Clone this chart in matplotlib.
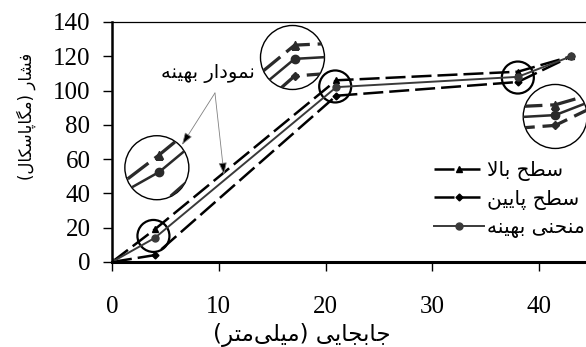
import matplotlib
matplotlib.use("Agg")
import matplotlib.pyplot as plt
from matplotlib.patches import Circle
from matplotlib.transforms import ScaledTranslation

# داده ها
jabejayi = [0, 4, 21, 38, 43]
sath_bala = [0, 19, 106, 111, 120]
sath_paein = [0, 4, 97, 105, 120]
behine = [0, 14, 102, 108, 120]

xticks = [0, 10, 20, 30, 40]
yticks = [0, 20, 40, 60, 80, 100, 120, 140]

# شکل دادن حروف فارسی (matplotlib خودش این کار را نمی کند)
FORMS = {
    '\u0627': ('\uFE8D', '\uFE8E', None, None),
    '\u0628': ('\uFE8F', '\uFE90', '\uFE91', '\uFE92'),
    '\u067E': ('\uFB56', '\uFB57', '\uFB58', '\uFB59'),
    '\u062A': ('\uFE95', '\uFE96', '\uFE97', '\uFE98'),
    '\u062C': ('\uFE9D', '\uFE9E', '\uFE9F', '\uFEA0'),
    '\u062D': ('\uFEA1', '\uFEA2', '\uFEA3', '\uFEA4'),
    '\u062F': ('\uFEA9', '\uFEAA', None, None),
    '\u0631': ('\uFEAD', '\uFEAE', None, None),
    '\u0633': ('\uFEB1', '\uFEB2', '\uFEB3', '\uFEB4'),
    '\u0634': ('\uFEB5', '\uFEB6', '\uFEB7', '\uFEB8'),
    '\u0637': ('\uFEC1', '\uFEC2', '\uFEC3', '\uFEC4'),
    '\u0641': ('\uFED1', '\uFED2', '\uFED3', '\uFED4'),
    '\u06A9': ('\uFB8E', '\uFB8F', '\uFB90', '\uFB91'),
    '\u0643': ('\uFB8E', '\uFB8F', '\uFB90', '\uFB91'),
    '\u06AF': ('\uFB92', '\uFB93', '\uFB94', '\uFB95'),
    '\u0644': ('\uFEDD', '\uFEDE', '\uFEDF', '\uFEE0'),
    '\u0645': ('\uFEE1', '\uFEE2', '\uFEE3', '\uFEE4'),
    '\u0646': ('\uFEE5', '\uFEE6', '\uFEE7', '\uFEE8'),
    '\u0647': ('\uFEE9', '\uFEEA', '\uFEEB', '\uFEEC'),
    '\u0648': ('\uFEED', '\uFEEE', None, None),
    '\u06CC': ('\uFBFC', '\uFBFD', '\uFBFE', '\uFBFF'),
    '\u064A': ('\uFBFC', '\uFBFD', '\uFBFE', '\uFBFF'),
}
MIRROR = {'(': ')', ')': '('}


def farsi(s):
    out = []
    i = 0
    while i < len(s):
        c = s[i]
        prev = s[i-1] if i > 0 else None
        nxt = s[i+1] if i+1 < len(s) else None
        join_prev = prev in FORMS and FORMS[prev][2] is not None
        if c == '\u200c':
            i += 1
            continue
        if c not in FORMS:
            out.append(MIRROR.get(c, c))
            i += 1
            continue
        if c == '\u0644' and nxt == '\u0627':
            out.append('\uFEFC' if join_prev else '\uFEFB')
            i += 2
            continue
        join_next = FORMS[c][2] is not None and nxt in FORMS
        if join_prev and join_next:
            f = 3
        elif join_prev:
            f = 1
        elif join_next:
            f = 2
        else:
            f = 0
        out.append(FORMS[c][f])
        i += 1
    return ''.join(reversed(out))


plt.rcParams['font.family'] = ['Liberation Serif', 'DejaVu Sans']
fa = ['DejaVu Sans']

fig = plt.figure(figsize=(5.86, 3.47), dpi=100)
ax = fig.add_axes([112/586, 1-262/347, 1-112/586, (262-22)/347])

# سری ها
series = [
    (sath_bala, dict(color='black', lw=1.8, dashes=(8, 2.4), marker='^', ms=5), 'سطح بالا'),
    (sath_paein, dict(color='black', lw=1.8, dashes=(8, 2.4), marker='D', ms=3.5), 'سطح پایین'),
    (behine, dict(color='#3a3a3a', lw=1.4, ls='-', marker='o', ms=5), 'منحنی بهینه'),
]
handles = []
for ys, st, lab in series:
    h, = ax.plot(jabejayi, ys, label=farsi(lab), **st)
    handles.append(h)


# دایره های بزرگ نمایی
def zarebin(cx, cy, bx, by, m=2.0, r1=16, r2=32):
    t1 = fig.dpi_scale_trans + ScaledTranslation(cx, cy, ax.transData)
    ax.add_patch(Circle((0, 0), r1/100, transform=t1, fill=False, ec='black', lw=1.6))
    t2 = fig.dpi_scale_trans + ScaledTranslation(bx, by, ax.transData)
    big = Circle((0, 0), r2/100, transform=t2, fill=False, ec='black', lw=1.0)
    ax.add_patch(big)
    for ys, st, lab in series:
        st2 = dict(st)
        st2['lw'] = st['lw'] * 1.3
        st2['ms'] = st['ms'] * 1.2
        st2['color'] = '#2a2a2a'
        xm = [bx + m*(v - cx) for v in jabejayi]
        ym = [by + m*(v - cy) for v in ys]
        ln, = ax.plot(xm, ym, **st2)
        ln.set_clip_path(big)


zarebin(3.88, 15.2, 4.2, 55)
zarebin(20.9, 102.4, 16.9, 119.3)
zarebin(38.0, 107.6, 41.5, 84.9)

# یادداشت
ax.text(9.0, 109.7, farsi('نمودار بهینه'), ha='center', va='center',
        fontsize=14, family=fa)
for tip in [(6.55, 68.3), (10.49, 50.8)]:
    ax.annotate('', xy=tip, xytext=(9.64, 98.6),
                arrowprops=dict(arrowstyle='-|>,head_length=0.75,head_width=0.25',
                                fc='black', ec='gray', lw=0.6, shrinkA=0, shrinkB=0))

ax.set_xlim(0, (586-112)/10.68)
ax.set_ylim(0, 140)
ax.set_xticks(xticks)
ax.set_yticks(yticks)
ax.tick_params(labelsize=18, direction='out', length=6.5, width=1)
ax.tick_params(axis='x', pad=18)
ax.tick_params(axis='y', pad=9)
ax.spines['right'].set_visible(False)
ax.spines['top'].set_linewidth(0.9)
ax.spines['left'].set_linewidth(1.8)
ax.spines['bottom'].set_linewidth(2.2)

fig.text(302/586, 1-335/347, farsi('جابجایی (میلی\u200cمتر)'), ha='center', va='center',
         fontsize=16.5, family=fa)
fig.text(26/586, 1-116/347, farsi('فشار (مگاپاسکال)'), ha='center', va='center',
         rotation=90, fontsize=12, family=fa)

leg = ax.legend(handles=handles, loc='upper left', bbox_to_anchor=(424/586, 1-151/347),
                bbox_transform=fig.transFigure, frameon=False, borderpad=0,
                handlelength=2.5, handletextpad=0.15, labelspacing=0.42,
                prop=dict(family=fa, size=14.5))

fig.savefig('out.png', dpi=100)
